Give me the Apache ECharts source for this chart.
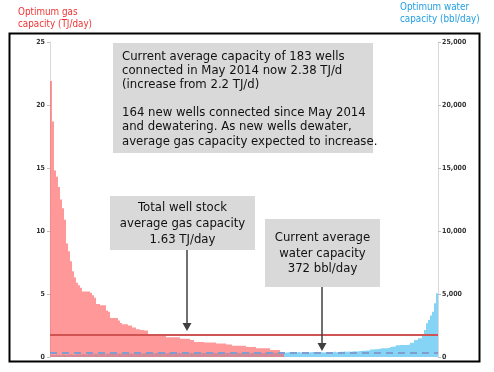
<!DOCTYPE html>
<html>
<head>
<meta charset="utf-8">
<script src="https://cdn.jsdelivr.net/npm/echarts@6/dist/echarts.min.js"></script>
<style>
html,body{margin:0;padding:0;background:#fff;}
#chart{width:494px;height:372px;}
</style>
</head>
<body>
<div id="chart"></div>
<script>
// Gas capacity per well (TJ/day), sorted descending
var gasCapacity = [
  21.9, 18.7, 14.8, 14.3, 13.5, 12.5, 11.8, 10.9, 9.0, 8.4,
  7.6, 6.8, 6.3, 5.9, 5.7, 5.5, 5.2, 5.2, 5.2, 5.2,
  5.1, 4.9, 4.7, 4.2, 4.2, 4.1, 4.1, 4.1, 3.7, 3.6,
  3.1, 3.1, 3.1, 3.1, 2.9, 2.7, 2.6, 2.6, 2.6, 2.5,
  2.5, 2.35, 2.35, 2.2, 2.2, 2.15, 2.15, 2.1, 2.1,
  1.8, 1.8, 1.8, 1.8,
  1.67, 1.67, 1.67, 1.67, 1.67,
  1.56, 1.56, 1.56, 1.56, 1.56, 1.56, 1.56,
  1.45, 1.45, 1.45, 1.45, 1.45,
  1.35, 1.35,
  1.2, 1.2, 1.2, 1.2, 1.2,
  1.15, 1.15, 1.15, 1.15, 1.15, 1.15,
  1.08, 1.08, 1.08, 1.08, 1.08,
  1.0, 1.0, 1.0,
  0.9, 0.9, 0.9, 0.9, 0.9, 0.9, 0.9,
  0.8, 0.8, 0.8, 0.8, 0.8,
  0.69, 0.69, 0.69, 0.69, 0.69, 0.69, 0.69,
  0.55, 0.55, 0.55, 0.55, 0.55,
  0.4, 0.4,
  0, 0, 0, 0, 0, 0, 0, 0, 0, 0,
  0, 0, 0, 0, 0, 0, 0, 0, 0, 0,
  0, 0, 0, 0, 0, 0, 0, 0, 0, 0,
  0, 0, 0, 0, 0, 0, 0, 0, 0, 0,
  0, 0, 0, 0, 0, 0, 0, 0, 0, 0,
  0, 0, 0, 0, 0, 0, 0, 0, 0, 0,
  0, 0, 0, 0, 0, 0, 0, 0, 0, 0,
  0, 0, 0, 0, 0, 0, 0
];

// Water capacity per well (bbl/day)
var waterCapacity = [
  120, 150, 130, 180, 160, 140, 200, 170, 150, 190,
  210, 180, 160, 220, 200, 190, 230, 210, 180, 240,
  220, 200, 250, 230, 210, 260, 240, 220, 250, 270,
  230, 260, 280, 240, 270, 250, 290, 260, 280, 300,
  270, 250, 290, 310, 280, 260, 300, 290, 310, 270,
  300, 320, 290, 310, 280, 300, 320, 310, 290, 330,
  300, 320, 310, 290, 330, 300, 320, 340, 310, 300,
  330, 320, 310, 340, 300, 320, 330, 310, 340, 320,
  300, 330, 340, 320, 310, 330, 340, 320, 330, 310,
  340, 330, 320, 340, 330, 310, 340, 320, 330, 340,
  320, 330, 340, 310, 330, 340, 320, 330, 340, 330,
  320, 340, 330, 340, 320, 330, 340,
  330, 350, 380, 360, 390, 370, 350, 400, 360, 380,
  370, 390, 360, 380, 400, 370, 350, 390, 380, 370,
  360, 400, 380, 390, 370, 410, 380, 400,
  420, 410, 430, 420, 440, 420, 430, 450, 440, 460,
  480, 500, 500, 510, 520,
  590, 600, 610, 620, 630,
  680, 690, 690, 700, 710,
  800, 820, 830,
  930, 940, 950, 950, 960, 960, 970,
  1135, 1140, 1350, 1350, 1480, 1480, 1750, 2140, 2680, 2940,
  3300, 3600, 4260, 5050
];

var wells = [];
for (var i = 0; i < gasCapacity.length; i++) { wells.push('W' + (i + 1)); }

var gasTicks = [0, 5, 10, 15, 20, 25];
var waterTicks = [0, 5000, 10000, 15000, 20000, 25000];
var avgGasLine = 1.8;      // TJ/day, as drawn
var avgWaterLine = 372;    // bbl/day

var FONT = '"DejaVu Sans Condensed", "DejaVu Sans", sans-serif';

var chart = echarts.init(document.getElementById('chart'), null, {renderer: 'canvas'});

var option = {
  animation: false,
  backgroundColor: '#fff',
  grid: {left: 50, right: 56, top: 42, bottom: 15},
  xAxis: {type: 'category', data: wells, show: false, boundaryGap: true},
  yAxis: [
    {
      type: 'value', min: gasTicks[0], max: gasTicks[gasTicks.length - 1], interval: 5,
      axisLine: {show: true, lineStyle: {color: '#d9d9d9', width: 1}},
      axisTick: {show: true, length: 3, lineStyle: {color: '#bfbfbf'}},
      splitLine: {show: false},
      axisLabel: {fontSize: 7, color: '#333', margin: 5, fontFamily: FONT, fontWeight: 'bold'}
    },
    {
      type: 'value', position: 'right', min: waterTicks[0], max: waterTicks[waterTicks.length - 1], interval: 5000,
      axisLine: {show: true, lineStyle: {color: '#d9d9d9', width: 1}},
      axisTick: {show: true, length: 3, lineStyle: {color: '#bfbfbf'}},
      splitLine: {show: false},
      axisLabel: {fontSize: 7, color: '#333', margin: 4, fontFamily: FONT, fontWeight: 'bold',
        formatter: function (v) { return v.toLocaleString('en-US'); }}
    }
  ],
  series: [
    {
      name: 'Water', type: 'bar', yAxisIndex: 1, data: waterCapacity,
      barCategoryGap: '35%', barGap: '-100%',
      itemStyle: {color: '#45bdf0'},
      markLine: {
        silent: true, symbol: 'none', label: {show: false},
        lineStyle: {color: '#7f9dd0', width: 2, type: [7, 5]},
        data: [{yAxis: avgWaterLine}]
      }
    },
    {
      name: 'Gas', type: 'bar', yAxisIndex: 0, data: gasCapacity,
      barCategoryGap: '35%', barGap: '-100%',
      itemStyle: {color: '#ff6262'},
      markLine: {
        silent: true, symbol: 'none', label: {show: false},
        lineStyle: {color: '#d05454', width: 2, type: 'solid'},
        data: [{yAxis: avgGasLine}]
      }
    }
  ],
  graphic: [
    {type: 'rect', shape: {x: 9.5, y: 33.5, width: 470, height: 328},
      style: {fill: 'none', stroke: '#000', lineWidth: 2}, z: 10},
    {type: 'text', style: {text: 'Optimum gas\ncapacity (TJ/day)', x: 18, y: 7, fill: '#ee3333',
      fontSize: 9.8, fontFamily: FONT, lineHeight: 11.5, verticalAlign: 'top'}},
    {type: 'text', style: {text: 'Optimum water\ncapacity (bbl/day)', x: 400, y: 1, fill: '#1f9fe2',
      fontSize: 9.8, fontFamily: FONT, lineHeight: 12, verticalAlign: 'top'}},

    {type: 'rect', shape: {x: 113, y: 43, width: 260, height: 110}, style: {fill: '#d9d9d9'}, z: 20},
    {type: 'text', z: 21, style: {text: 'Current average capacity of 183 wells\nconnected in May 2014 now 2.38 TJ/d\n(increase from 2.2 TJ/d)',
      x: 122, y: 50, fill: '#111', fontSize: 13, fontFamily: FONT, lineHeight: 14, verticalAlign: 'top'}},
    {type: 'text', z: 21, style: {text: '164 new wells connected since May 2014\nand dewatering. As new wells dewater,\naverage gas capacity expected to increase.',
      x: 122, y: 105, fill: '#111', fontSize: 13, fontFamily: FONT, lineHeight: 14.5, verticalAlign: 'top'}},

    {type: 'rect', shape: {x: 110, y: 196, width: 145, height: 54}, style: {fill: '#d9d9d9'}, z: 20},
    {type: 'text', z: 21, style: {text: 'Total well stock\naverage gas capacity\n1.63 TJ/day',
      x: 182.5, y: 200, fill: '#111', fontSize: 13, fontFamily: FONT, lineHeight: 16, align: 'center', verticalAlign: 'top'}},

    {type: 'rect', shape: {x: 265, y: 219, width: 115, height: 68}, style: {fill: '#d9d9d9'}, z: 20},
    {type: 'text', z: 21, style: {text: 'Current average\nwater capacity\n372 bbl/day',
      x: 322.5, y: 230, fill: '#111', fontSize: 13, fontFamily: FONT, lineHeight: 15.5, align: 'center', verticalAlign: 'top'}},

    {type: 'line', z: 22, shape: {x1: 187, y1: 250, x2: 187, y2: 324}, style: {stroke: '#404040', lineWidth: 1.5}},
    {type: 'polygon', z: 22, shape: {points: [[182.5, 323], [191.5, 323], [187, 331]]}, style: {fill: '#404040'}},
    {type: 'line', z: 22, shape: {x1: 322, y1: 287, x2: 322, y2: 344}, style: {stroke: '#404040', lineWidth: 1.5}},
    {type: 'polygon', z: 22, shape: {points: [[317.5, 343], [326.5, 343], [322, 351]]}, style: {fill: '#404040'}}
  ]
};
chart.setOption(option);
</script>
</body>
</html>
